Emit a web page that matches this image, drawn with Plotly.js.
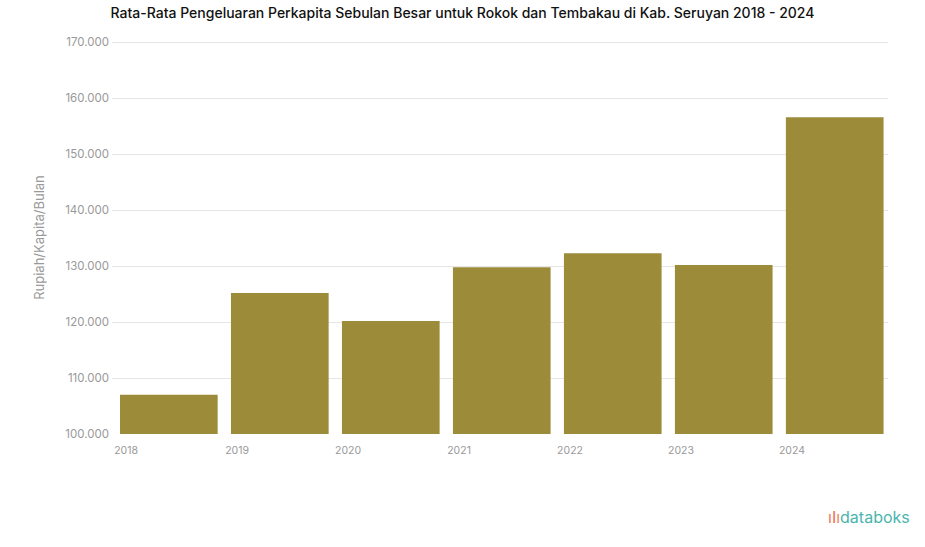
<!DOCTYPE html>
<html>
<head>
<meta charset="utf-8">
<script src="https://cdn.plot.ly/plotly-3.0.1.min.js"></script>
<style>body{margin:0;background:#fff}#chart{width:925px;height:547px}</style>
</head>
<body>
<div id="chart"></div>
<script>
const years = [2018, 2019, 2020, 2021, 2022, 2023, 2024];
const values = [107000, 125200, 120200, 129800, 132300, 130200, 156600];
const yTicks = [100000, 110000, 120000, 130000, 140000, 150000, 160000, 170000];
const titleText = "Rata-Rata Pengeluaran Perkapita Sebulan Besar untuk Rokok dan Tembakau di Kab. Seruyan 2018 - 2024";
const yTitle = "Rupiah/Kapita/Bulan";

const trace = {
  type: "bar",
  x: years,
  y: values.map(v => v - 100000),
  base: 100000,
  offset: 0,
  width: 0.88,
  marker: {color: "#9c8b38"},
  hoverinfo: "x+y"
};

const layout = {
  width: 925, height: 547,
  margin: {l: 112, r: 37, t: 41, b: 113},
  paper_bgcolor: "#fff", plot_bgcolor: "#fff",
  separators: ",.",
  font: {family: "Inter, 'Noto Sans', sans-serif", color: "#888"},
  title: {text: titleText, x: 0.5, xanchor: "center", y: 0.985, yanchor: "top",
          font: {family: "Inter, sans-serif", size: 14, color: "#111", weight: 500}},
  xaxis: {
    type: "linear", range: [2017.928, 2024.92],
    tickmode: "array", tickvals: years.map(y => y + 0.055), ticktext: years.map(String),
    showgrid: false, zeroline: false, showline: false, ticks: "",
    tickfont: {size: 10.5, color: "#999"}, ticklabelstandoff: 8
  },
  yaxis: {
    range: [100000, 170200],
    tickmode: "array", tickvals: yTicks, tickformat: ",d",
    showgrid: true, gridcolor: "#e6e6e6", gridwidth: 1,
    zeroline: false, showline: false, ticks: "",
    tickfont: {size: 11.5, color: "#999"}, ticklabelstandoff: 2,
    title: {text: yTitle, font: {size: 13, color: "#999"}, standoff: 17}
  },
  showlegend: false,
  annotations: [{
    xref: "paper", yref: "paper", x: 1.031, y: -0.21, xanchor: "right", yanchor: "middle",
    text: "<span style='color:#f07a5a'>ı</span><span style='color:#ee6a55'>I</span><span style='color:#f08a5a'>ı</span><span style='color:#4ab5ae'>databoks</span>",
    showarrow: false, font: {family: "Inter, sans-serif", size: 16, color: "#4ab5ae"}
  }]
};

Plotly.newPlot("chart", [trace], layout, {displayModeBar: false, staticPlot: true});
</script>
</body>
</html>
